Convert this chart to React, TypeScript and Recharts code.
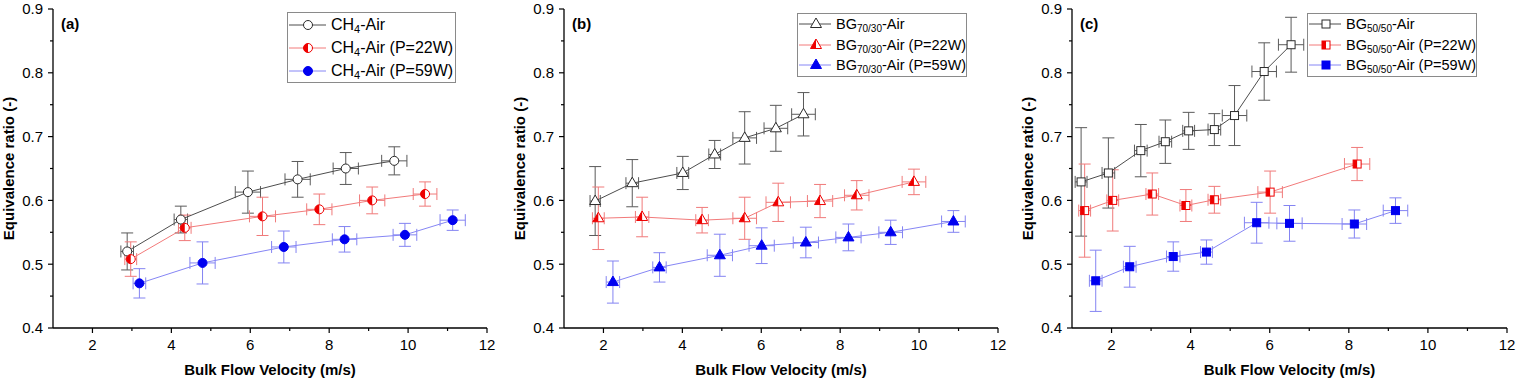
import React from "react";
import { ScatterChart, Scatter, XAxis, YAxis, ErrorBar } from "recharts";

const FONT = '"Liberation Sans", Arial, Helvetica, sans-serif';

// axis ticks (majors get labels, the rest are minor ticks)
const xTicks = [2, 3, 4, 5, 6, 7, 8, 9, 10, 11, 12];
const yTicks = [0.4, 0.45, 0.5, 0.55, 0.6, 0.65, 0.7, 0.75, 0.8, 0.85, 0.9];

// (a) CH4-Air
const aAirX = [2.88, 4.24, 5.94, 7.2, 8.42, 9.65];
const aAirY = [0.52, 0.57, 0.613, 0.633, 0.65, 0.662];
const aAirEx = [0.16, 0.17, 0.32, 0.32, 0.32, 0.32];
const aAirEy = [0.029, 0.021, 0.033, 0.028, 0.025, 0.022];

const a22X = [2.97, 4.34, 6.31, 7.75, 9.09, 10.43];
const a22Y = [0.508, 0.557, 0.575, 0.586, 0.6, 0.61];
const a22Ex = [0.15, 0.16, 0.33, 0.32, 0.32, 0.3];
const a22Ey = [0.027, 0.02, 0.03, 0.024, 0.021, 0.019];

const a59X = [3.19, 4.79, 6.85, 8.39, 9.92, 11.13];
const a59Y = [0.47, 0.502, 0.527, 0.539, 0.546, 0.569];
const a59Ex = [0.16, 0.32, 0.31, 0.31, 0.3, 0.32];
const a59Ey = [0.023, 0.033, 0.025, 0.02, 0.018, 0.016];

// (b) BG70/30-Air
const bAirX = [1.79, 2.73, 4.01, 4.82, 5.58, 6.37, 7.07];
const bAirY = [0.599, 0.627, 0.643, 0.672, 0.698, 0.713, 0.735];
const bAirEx = [0.13, 0.16, 0.15, 0.15, 0.3, 0.3, 0.3];
const bAirEy = [0.054, 0.037, 0.026, 0.022, 0.041, 0.036, 0.034];

const b22X = [1.87, 2.98, 4.5, 5.58, 6.43, 7.49, 8.42, 9.87];
const b22Y = [0.572, 0.574, 0.569, 0.572, 0.597, 0.599, 0.608, 0.629];
const b22Ex = [0.15, 0.17, 0.16, 0.3, 0.31, 0.32, 0.31, 0.3];
const b22Ey = [0.049, 0.031, 0.02, 0.033, 0.03, 0.026, 0.023, 0.02];

const b59X = [2.24, 3.42, 4.95, 6.01, 7.13, 8.21, 9.28, 10.87];
const b59Y = [0.472, 0.495, 0.514, 0.529, 0.534, 0.542, 0.55, 0.567];
const b59Ex = [0.17, 0.17, 0.32, 0.32, 0.32, 0.32, 0.3, 0.3];
const b59Ey = [0.033, 0.023, 0.033, 0.028, 0.024, 0.021, 0.019, 0.017];

// (c) BG50/50-Air
const cAirX = [1.23, 1.92, 2.74, 3.36, 3.95, 4.6, 5.11, 5.86, 6.54];
const cAirY = [0.629, 0.643, 0.678, 0.692, 0.709, 0.711, 0.733, 0.802, 0.844];
const cAirEx = [0.15, 0.16, 0.16, 0.16, 0.15, 0.16, 0.31, 0.31, 0.32];
const cAirEy = [0.085, 0.055, 0.041, 0.034, 0.029, 0.025, 0.047, 0.045, 0.043];

const c22X = [1.32, 2.03, 3.03, 3.88, 4.6, 6.01, 8.21];
const c22Y = [0.584, 0.6, 0.61, 0.592, 0.601, 0.613, 0.657];
const c22Ex = [0.15, 0.15, 0.16, 0.15, 0.16, 0.31, 0.32];
const c22Ey = [0.073, 0.048, 0.033, 0.025, 0.021, 0.033, 0.026];

const c59X = [1.6, 2.46, 3.56, 4.4, 5.67, 6.5, 8.14, 9.18];
const c59Y = [0.474, 0.496, 0.512, 0.519, 0.565, 0.564, 0.563, 0.584];
const c59Ex = [0.16, 0.16, 0.17, 0.15, 0.31, 0.32, 0.31, 0.31];
const c59Ey = [0.048, 0.032, 0.023, 0.019, 0.032, 0.028, 0.022, 0.02];

const rows = (x: number[], y: number[], ex: number[], ey: number[]) =>
  x.map((v, i) => ({ x: v, y: y[i], ex: ex[i], ey: ey[i] }));

const BLACK = { mark: "#2b2b2b", line: "#4d4d4d", err: "#5a5a5a" };
const RED = { mark: "#ee0000", line: "#f27a7a", err: "#f07a7a" };
const BLUE = { mark: "#0000f0", line: "#8686f5", err: "#8484f2" };

type Kind = "circle" | "triangle" | "square";
type Mode = "open" | "half" | "filled";

const Marker = ({ cx, cy, kind, mode, color }: any) => {
  if (cx == null || cy == null) return null;
  const fillAll = mode === "filled" ? color : "#fff";
  if (kind === "circle") {
    const r = 4.5;
    return (
      <g>
        <circle cx={cx} cy={cy} r={r} fill={fillAll} stroke={color} strokeWidth={1} />
        {mode === "half" && (
          <path d={`M${cx},${cy - r} A${r},${r} 0 0 0 ${cx},${cy + r} Z`} fill={color} />
        )}
      </g>
    );
  }
  if (kind === "triangle") {
    const h = 5.5;
    const pts = `${cx},${cy - 6} ${cx + h},${cy + 3.5} ${cx - h},${cy + 3.5}`;
    return (
      <g>
        <polygon points={pts} fill={fillAll} stroke={color} strokeWidth={1} />
        {mode === "half" && (
          <polygon points={`${cx},${cy - 6} ${cx},${cy + 3.5} ${cx - h},${cy + 3.5}`} fill={color} />
        )}
      </g>
    );
  }
  const s = 4;
  return (
    <g>
      <rect x={cx - s} y={cy - s} width={2 * s} height={2 * s} fill={fillAll} stroke={color} strokeWidth={1} />
      {mode === "half" && <rect x={cx - s} y={cy - s} width={s} height={2 * s} fill={color} />}
    </g>
  );
};

const YTick = ({ y, payload, axisX }: any) => {
  const v = payload.value as number;
  const major = Math.round(v * 100) % 10 === 0;
  return (
    <g>
      <line x1={axisX} x2={axisX - (major ? 5 : 3)} y1={y} y2={y} stroke="#000" strokeWidth={1.2} />
      {major && (
        <text x={axisX - 10} y={y} dy="0.36em" textAnchor="end" fontSize={15} fontFamily={FONT} fill="#000">
          {v.toFixed(1)}
        </text>
      )}
    </g>
  );
};

const XTick = ({ x, payload, axisY }: any) => {
  const v = payload.value as number;
  const major = v % 2 === 0;
  return (
    <g>
      <line x1={x} x2={x} y1={axisY} y2={axisY + (major ? 5 : 3)} stroke="#000" strokeWidth={1.2} />
      {major && (
        <text x={x} y={axisY + 22} textAnchor="middle" fontSize={15} fontFamily={FONT} fill="#000">
          {v}
        </text>
      )}
    </g>
  );
};

type Series = {
  pre: string;
  sub: string;
  post: string;
  data: { x: number; y: number; ex: number; ey: number }[];
  kind: Kind;
  mode: Mode;
  col: { mark: string; line: string; err: string };
};

type LegendCfg = {
  left: number;
  top: number;
  width: number;
  height: number;
  rowY: number[];
  lineX: [number, number];
  markX: number;
  textX: number;
  fontSize: number;
  subSize: number;
};

const PLOT_TOP = 9;
const PLOT_BOTTOM = 328;
const H = 379;

function Panel({
  width,
  yAxisW,
  right,
  tag,
  series,
  legend,
}: {
  width: number;
  yAxisW: number;
  right: number;
  tag: string;
  series: Series[];
  legend: LegendCfg;
}) {
  return (
    <div style={{ position: "relative", width, height: H, fontFamily: FONT }}>
      <ScatterChart width={width} height={H} margin={{ top: PLOT_TOP, right, bottom: 0, left: 0 }}>
        <XAxis
          xAxisId="top"
          orientation="top"
          type="number"
          domain={[1, 12]}
          allowDataOverflow
          height={0}
          tick={false}
          tickLine={false}
          axisLine={{ stroke: "#000", strokeWidth: 1.3 }}
        />
        <YAxis
          yAxisId="right"
          orientation="right"
          type="number"
          domain={[0.4, 0.9]}
          allowDataOverflow
          width={0}
          tick={false}
          tickLine={false}
          axisLine={{ stroke: "#000", strokeWidth: 1.3 }}
        />
        <XAxis
          dataKey="x"
          type="number"
          domain={[1, 12]}
          allowDataOverflow
          ticks={xTicks}
          interval={0}
          height={H - PLOT_BOTTOM}
          tickLine={false}
          axisLine={{ stroke: "#000", strokeWidth: 1.3 }}
          tick={(p: any) => <XTick {...p} axisY={PLOT_BOTTOM} />}
          label={{
            value: "Bulk Flow Velocity (m/s)",
            position: "insideBottom",
            offset: 4,
            style: { fontWeight: "bold", fontSize: 15, fill: "#000", fontFamily: FONT },
          }}
        />
        <YAxis
          dataKey="y"
          type="number"
          domain={[0.4, 0.9]}
          allowDataOverflow
          ticks={yTicks}
          interval={0}
          width={yAxisW}
          tickLine={false}
          axisLine={{ stroke: "#000", strokeWidth: 1.3 }}
          tick={(p: any) => <YTick {...p} axisX={yAxisW} />}
          label={{
            value: "Equivalence ratio (-)",
            angle: -90,
            position: "insideLeft",
            offset: yAxisW - 44,
            style: { fontWeight: "bold", fontSize: 15, fill: "#000", fontFamily: FONT, textAnchor: "middle" },
          }}
        />
        {series.map((s, i) => (
          <Scatter
            key={i}
            data={s.data}
            fill={s.col.mark}
            line={{ stroke: s.col.line, strokeWidth: 1 }}
            lineJointType="linear"
            isAnimationActive={false}
            shape={(p: any) => <Marker cx={p.cx} cy={p.cy} kind={s.kind} mode={s.mode} color={s.col.mark} />}
          >
            <ErrorBar dataKey="ex" direction="x" width={6} stroke={s.col.err} strokeWidth={1} isAnimationActive={false} />
            <ErrorBar dataKey="ey" direction="y" width={6} stroke={s.col.err} strokeWidth={1} isAnimationActive={false} />
          </Scatter>
        ))}
      </ScatterChart>
      <div
        style={{
          position: "absolute",
          left: yAxisW + 8,
          top: 15,
          fontWeight: "bold",
          fontSize: 15,
          lineHeight: "18px",
          color: "#000",
        }}
      >
        {tag}
      </div>
      <div
        style={{
          position: "absolute",
          left: legend.left,
          top: legend.top,
          width: legend.width,
          height: legend.height,
          border: "1px solid #8a8a8a",
          boxSizing: "border-box",
          background: "#fff",
        }}
      >
        {series.map((s, i) => (
          <div key={i} style={{ position: "absolute", left: 0, top: legend.rowY[i] - 10, height: 20, width: "100%" }}>
            <svg width={legend.textX} height={20} style={{ position: "absolute", left: 0, top: 0 }}>
              <line x1={legend.lineX[0]} x2={legend.lineX[1]} y1={10} y2={10} stroke={s.col.line} strokeWidth={1} />
              <Marker cx={legend.markX} cy={10} kind={s.kind} mode={s.mode} color={s.col.mark} />
            </svg>
            <span
              style={{
                position: "absolute",
                left: legend.textX,
                top: 0,
                lineHeight: "20px",
                fontSize: legend.fontSize,
                whiteSpace: "nowrap",
                color: "#000",
              }}
            >
              {s.pre}
              <sub style={{ fontSize: legend.subSize, verticalAlign: "-0.3em", lineHeight: 0 }}>{s.sub}</sub>
              {s.post}
            </span>
          </div>
        ))}
      </div>
    </div>
  );
}

const seriesA: Series[] = [
  { pre: "CH", sub: "4", post: "-Air", data: rows(aAirX, aAirY, aAirEx, aAirEy), kind: "circle", mode: "open", col: BLACK },
  { pre: "CH", sub: "4", post: "-Air (P=22W)", data: rows(a22X, a22Y, a22Ex, a22Ey), kind: "circle", mode: "half", col: RED },
  { pre: "CH", sub: "4", post: "-Air (P=59W)", data: rows(a59X, a59Y, a59Ex, a59Ey), kind: "circle", mode: "filled", col: BLUE },
];

const seriesB: Series[] = [
  { pre: "BG", sub: "70/30", post: "-Air", data: rows(bAirX, bAirY, bAirEx, bAirEy), kind: "triangle", mode: "open", col: BLACK },
  { pre: "BG", sub: "70/30", post: "-Air (P=22W)", data: rows(b22X, b22Y, b22Ex, b22Ey), kind: "triangle", mode: "half", col: RED },
  { pre: "BG", sub: "70/30", post: "-Air (P=59W)", data: rows(b59X, b59Y, b59Ex, b59Ey), kind: "triangle", mode: "filled", col: BLUE },
];

const seriesC: Series[] = [
  { pre: "BG", sub: "50/50", post: "-Air", data: rows(cAirX, cAirY, cAirEx, cAirEy), kind: "square", mode: "open", col: BLACK },
  { pre: "BG", sub: "50/50", post: "-Air (P=22W)", data: rows(c22X, c22Y, c22Ex, c22Ey), kind: "square", mode: "half", col: RED },
  { pre: "BG", sub: "50/50", post: "-Air (P=59W)", data: rows(c59X, c59Y, c59Ex, c59Ey), kind: "square", mode: "filled", col: BLUE },
];

const legendA: LegendCfg = {
  left: 287, top: 12, width: 169, height: 71,
  rowY: [12, 35, 58], lineX: [1, 38], markX: 20, textX: 43, fontSize: 16, subSize: 11,
};
const legendBC = (left: number): LegendCfg => ({
  left, top: 13, width: 170, height: 64,
  rowY: [10, 31, 51], lineX: [1, 33], markX: 18, textX: 38, fontSize: 14.5, subSize: 10,
});

export default function App() {
  return (
    <div style={{ position: "absolute", left: 0, top: 0, width: 1516, height: H, display: "flex", background: "#fff" }}>
      <Panel width={505} yAxisW={53} right={18} tag="(a)" series={seriesA} legend={legendA} />
      <Panel width={505} yAxisW={59} right={12} tag="(b)" series={seriesB} legend={legendBC(292)} />
      <Panel width={506} yAxisW={62} right={9} tag="(c)" series={seriesC} legend={legendBC(297)} />
    </div>
  );
}
